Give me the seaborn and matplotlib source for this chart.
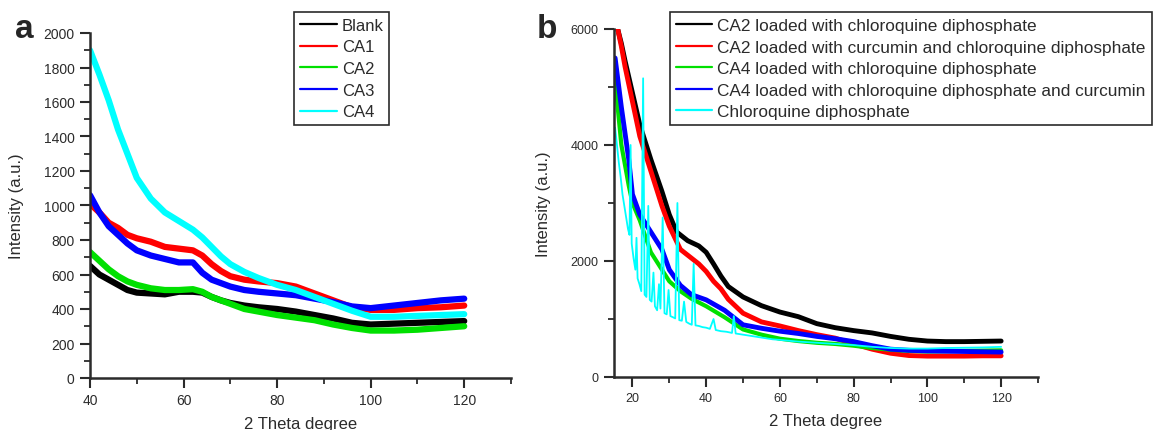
"""XRD patterns: (a) blank and CA1-CA4, (b) drug-loaded samples."""

import matplotlib

matplotlib.use("Agg")
import matplotlib.pyplot as plt
from matplotlib.ticker import MultipleLocator
import seaborn as sns

# ---- panel a -------------------------------------------------------------
THETA_A = [40, 42, 44, 46, 48, 50, 53, 56, 59, 62, 64, 66, 68, 70, 73, 76,
           80, 84, 88, 92, 96, 100, 105, 110, 115, 120]
BLANK = [650, 600, 570, 540, 510, 495, 490, 485, 500, 500, 495, 470, 450, 435,
         420, 410, 400, 385, 365, 345, 320, 310, 315, 320, 325, 330]
CA1 = [1010, 960, 900, 870, 830, 810, 790, 760, 750, 740, 710, 660, 620, 590,
       570, 560, 550, 530, 490, 450, 410, 395, 395, 405, 410, 420]
CA2 = [730, 680, 630, 590, 560, 540, 520, 510, 510, 515, 500, 470, 450, 430,
       400, 385, 365, 350, 335, 310, 290, 275, 275, 280, 290, 300]
CA3 = [1060, 960, 880, 830, 780, 740, 710, 690, 670, 670, 610, 570, 550, 530,
       510, 500, 490, 480, 460, 440, 415, 405, 420, 435, 450, 460]
CA4 = [1900, 1760, 1610, 1440, 1300, 1160, 1040, 960, 910, 860, 815, 760, 705,
       660, 615, 580, 540, 510, 470, 430, 390, 355, 355, 360, 365, 370]
LABELS_A = ["Blank", "CA1", "CA2", "CA3", "CA4"]
COLORS_A = ["#000000", "#ff0000", "#00e000", "#0000ff", "#00ffff"]

# ---- panel b -------------------------------------------------------------
CA2_CQ_X = [16, 17, 18, 20, 22, 25, 28, 30, 32, 35, 38, 40, 42, 44, 46, 50,
            55, 60, 65, 70, 75, 80, 85, 90, 95, 100, 105, 110, 115, 120]
CA2_CQ_Y = [6000, 5750, 5450, 4900, 4350, 3750, 3200, 2800, 2500, 2350, 2260,
            2150, 1950, 1740, 1560, 1380, 1230, 1120, 1040, 920, 850, 800, 760,
            700, 650, 620, 610, 610, 615, 620]
CA2_CUR_CQ_X = [16, 17, 18, 20, 22, 25, 28, 30, 33, 36, 38, 40, 42, 44, 46, 50,
                55, 60, 65, 70, 75, 80, 85, 90, 95, 100, 105, 110, 115, 120]
CA2_CUR_CQ_Y = [6000, 5700, 5350, 4750, 4150, 3550, 2950, 2600, 2200, 2050,
                1950, 1820, 1650, 1520, 1340, 1100, 950, 880, 800, 730, 670,
                570, 480, 410, 370, 360, 360, 360, 365, 365]
CA4_CQ_X = [15.3, 16, 17, 18, 19, 20, 22, 25, 28, 30, 33, 36, 40, 45, 50, 55,
            60, 65, 70, 75, 80, 85, 90, 95, 100, 110, 120]
CA4_CQ_Y = [5200, 4650, 4000, 3650, 3300, 3000, 2700, 2150, 1850, 1650, 1480,
            1350, 1220, 1030, 820, 730, 660, 620, 590, 570, 540, 500, 470, 450,
            440, 450, 460]
CA4_CQ_CUR_X = [15.3, 16, 17, 18, 19, 20, 22, 25, 28, 30, 33, 36, 40, 45, 50,
                55, 60, 65, 70, 75, 80, 85, 90, 95, 100, 110, 120]
CA4_CQ_CUR_Y = [5500, 5150, 4650, 4200, 3750, 3150, 2800, 2500, 2200, 1850,
                1580, 1420, 1330, 1150, 900, 840, 790, 750, 700, 660, 610, 540,
                480, 460, 450, 440, 430]
CQ_X = [15.3, 15.8, 16.3, 16.8, 17.3, 17.8, 18.3, 18.8, 19.2, 19.5, 19.8, 20.3,
        20.8, 21.1, 21.4, 21.9, 22.4, 22.9, 23.3, 23.8, 24.3, 24.7, 25.2, 25.7,
        26.1, 26.7, 27.2, 27.6, 28.2, 28.7, 29.3, 29.8, 30.3, 31, 31.6, 32.2,
        32.7, 33.4, 34, 34.6, 35.4, 36.1, 36.6, 37.1, 38, 39, 40, 41, 42, 42.6,
        44, 45.5, 47, 47.5, 48, 50, 53, 55, 58, 60, 65, 70, 75, 80, 85, 90, 95,
        100, 105, 110, 115, 120]
CQ_Y = [4300, 4000, 3700, 3450, 3150, 2950, 2750, 2550, 2450, 4000, 2300, 2050,
        1850, 2400, 1700, 1600, 1480, 5150, 1420, 1380, 2950, 1330, 1300, 1800,
        1220, 1150, 1600, 1180, 2750, 1100, 1080, 1500, 1050, 1030, 1010, 3000,
        980, 970, 1300, 950, 920, 900, 1950, 890, 880, 860, 850, 830, 1000, 810,
        790, 780, 760, 1050, 750, 730, 700, 680, 650, 640, 610, 590, 570, 550,
        520, 500, 490, 490, 500, 505, 510, 520]
LABELS_B = [
    "CA2 loaded with chloroquine diphosphate",
    "CA2 loaded with curcumin and chloroquine diphosphate",
    "CA4 loaded with chloroquine diphosphate",
    "CA4 loaded with chloroquine diphosphate and curcumin",
    "Chloroquine diphosphate",
]
COLORS_B = ["#000000", "#ff0000", "#00e000", "#0000ff", "#00ffff"]

INK = "#2b2b2b"

sns.set_theme(style="ticks")
plt.rcParams["font.family"] = ["Liberation Sans", "DejaVu Sans"]
plt.rcParams["axes.edgecolor"] = INK
plt.rcParams["xtick.color"] = INK
plt.rcParams["ytick.color"] = INK

fig = plt.figure(figsize=(11.53, 4.31), dpi=100)
ax_a = fig.add_axes([90 / 1153, 1 - 379 / 431, 421 / 1153, 345 / 431])
ax_b = fig.add_axes([614 / 1153, 1 - 378 / 431, 424 / 1153, 348 / 431])

# panel a
for series, label, color in zip([BLANK, CA1, CA2, CA3, CA4], LABELS_A, COLORS_A):
    sns.lineplot(x=THETA_A, y=series, color=color, linewidth=4.5, label=label,
                 estimator=None, sort=False, ax=ax_a)
ax_a.set_xlim(40, 130)
ax_a.set_ylim(0, 2000)
ax_a.set_xticks([40, 60, 80, 100, 120])
ax_a.set_xticks([50, 70, 90, 110, 130], minor=True)
ax_a.yaxis.set_major_locator(MultipleLocator(200))
ax_a.yaxis.set_minor_locator(MultipleLocator(100))

# panel b
series_b = [
    (CA2_CQ_X, CA2_CQ_Y, 3.5),
    (CA2_CUR_CQ_X, CA2_CUR_CQ_Y, 3.5),
    (CA4_CQ_X, CA4_CQ_Y, 3.0),
    (CA4_CQ_CUR_X, CA4_CQ_CUR_Y, 3.5),
    (CQ_X, CQ_Y, 1.3),
]
for (xs, ys, lw), label, color in zip(series_b, LABELS_B, COLORS_B):
    sns.lineplot(x=xs, y=ys, color=color, linewidth=lw, label=label,
                 estimator=None, sort=False, ax=ax_b)
ax_b.set_xlim(15, 130)
ax_b.set_ylim(0, 6000)
ax_b.set_xticks([20, 40, 60, 80, 100, 120])
ax_b.set_xticks([30, 50, 70, 90, 110, 130], minor=True)
ax_b.yaxis.set_major_locator(MultipleLocator(2000))
ax_b.yaxis.set_minor_locator(MultipleLocator(1000))

for ax, tick_size in [(ax_a, 10), (ax_b, 9)]:
    sns.despine(ax=ax)
    for side in ("left", "bottom"):
        ax.spines[side].set_linewidth(1.8)
    ax.tick_params(which="major", direction="out", length=7, width=1.5,
                   labelsize=tick_size, pad=4)
    ax.tick_params(which="minor", direction="out", length=4, width=1.3)
    ax.set_xlabel("2 Theta degree", fontsize=12, labelpad=6.5, color=INK)
    ax.set_ylabel("Intensity (a.u.)", fontsize=12, labelpad=14, color=INK)

leg_a = ax_a.legend(loc="upper left", bbox_to_anchor=(0.485, 1.061),
                    borderaxespad=0, fontsize=12, handlelength=2.2,
                    handletextpad=0.3, labelspacing=0.4, borderpad=0.35,
                    fancybox=False, edgecolor=INK, framealpha=1)
leg_b = ax_b.legend(loc="upper left", bbox_to_anchor=(0.132, 1.049),
                    borderaxespad=0, fontsize=12.4, handlelength=2.1,
                    handletextpad=0.3, labelspacing=0.38, borderpad=0.35,
                    fancybox=False, edgecolor=INK, framealpha=1)
for leg in (leg_a, leg_b):
    leg.get_frame().set_linewidth(1.2)
    for line in leg.get_lines():
        line.set_linewidth(1.6)
    for text in leg.get_texts():
        text.set_color(INK)

fig.text(24 / 1153, 1 - 38 / 431, "a", fontsize=24, fontweight="bold",
         ha="center", va="baseline")
fig.text(547 / 1153, 1 - 38 / 431, "b", fontsize=24, fontweight="bold",
         ha="center", va="baseline")

fig.savefig("out.png", dpi=100)
plt.close(fig)
